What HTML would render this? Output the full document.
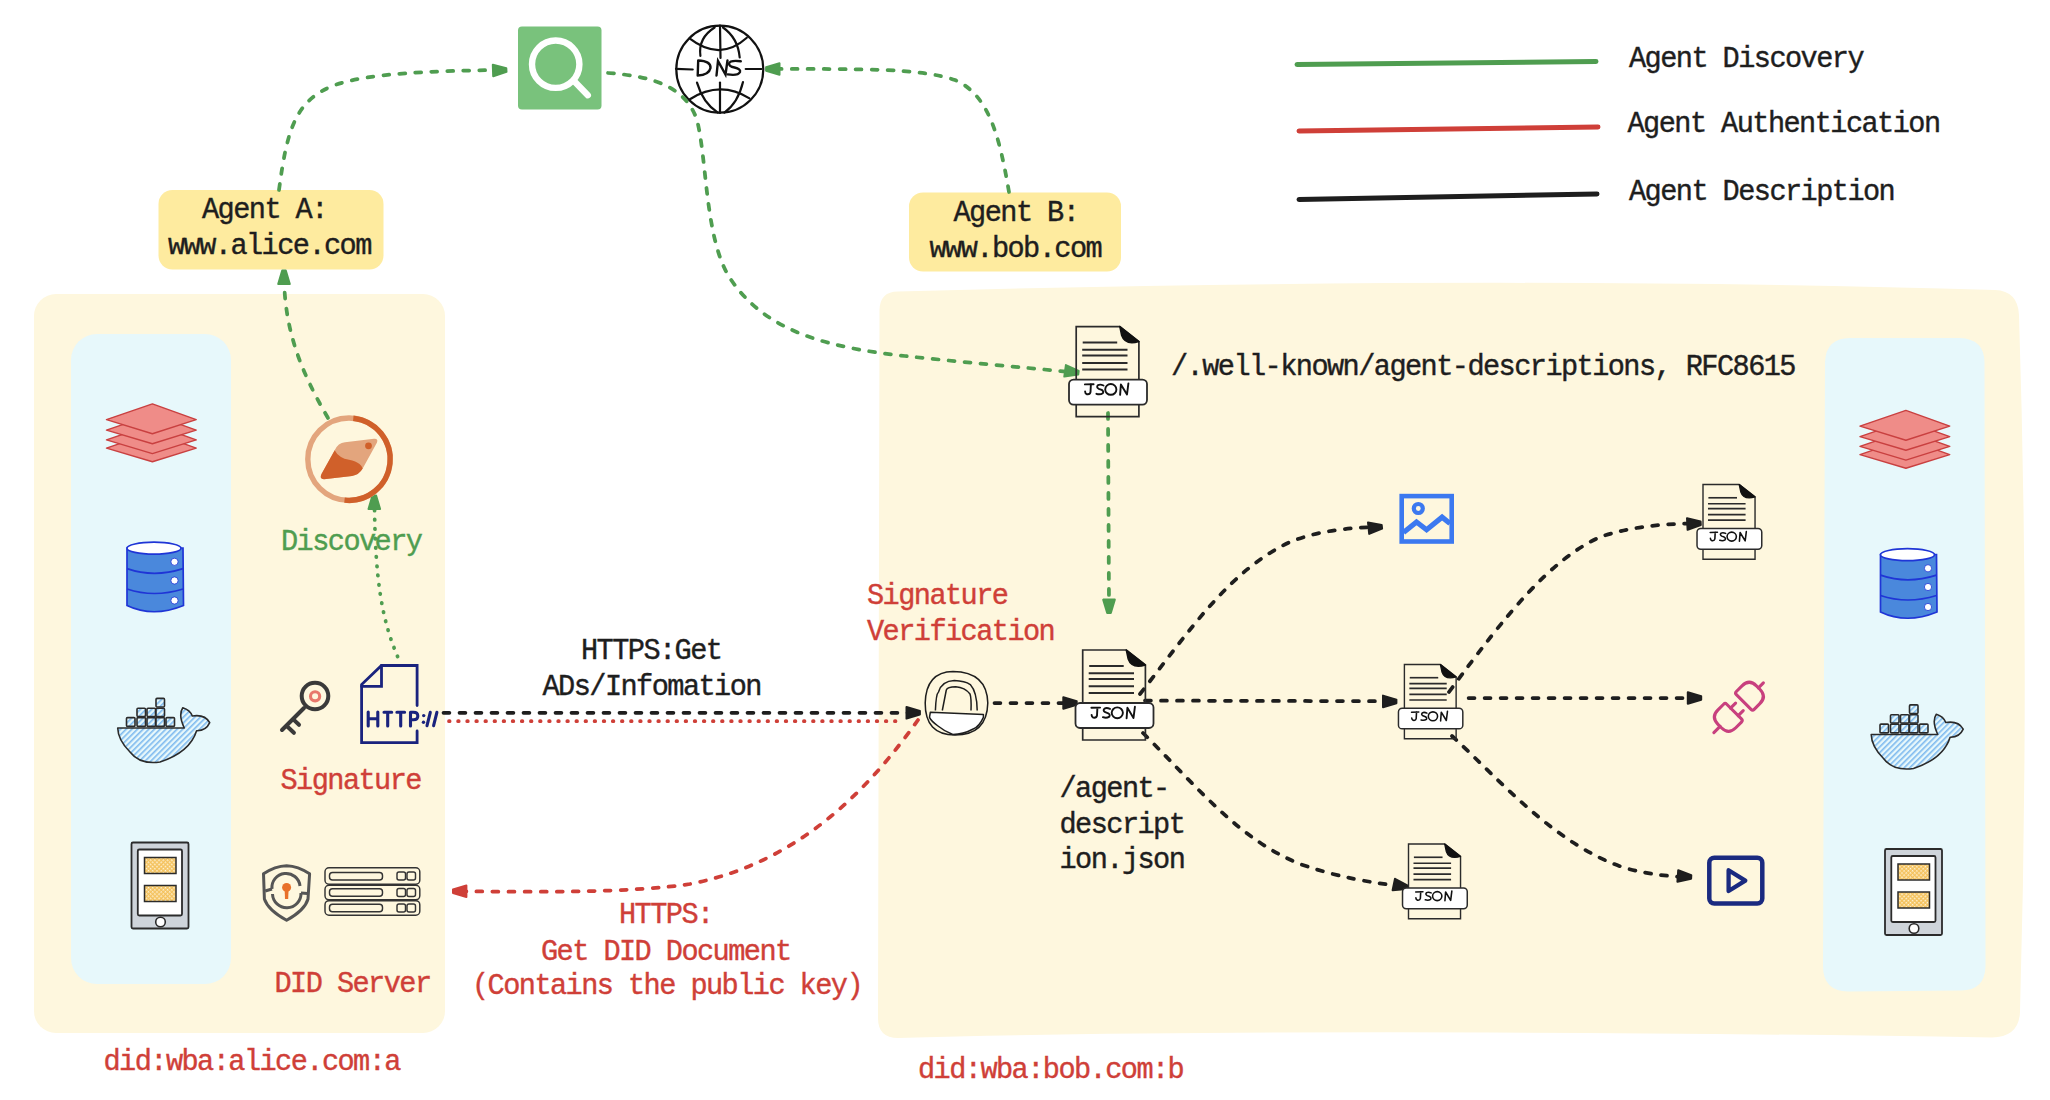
<!DOCTYPE html>
<html><head><meta charset="utf-8">
<style>
html,body{margin:0;padding:0;background:#fff;width:2050px;height:1100px;overflow:hidden}
svg{display:block}
.t{font-family:"Liberation Mono",monospace;font-size:28.6px;letter-spacing:-1.56px;stroke-width:0.4px;paint-order:stroke}
</style></head>
<body>
<svg width="2050" height="1100" viewBox="0 0 2050 1100">
<defs>
  <pattern id="hatch" patternUnits="userSpaceOnUse" width="4" height="4" patternTransform="rotate(-45)">
    <rect width="4" height="4" fill="#e7f8fb"/>
    <rect width="4" height="1.6" fill="#7db9ef"/>
  </pattern>
  <pattern id="xhatch" patternUnits="userSpaceOnUse" width="3" height="3" patternTransform="rotate(45)">
    <rect width="3" height="3" fill="#f4c25e"/>
    <rect width="1.5" height="1.5" fill="#fff6e0"/>
  </pattern>
  <g id="doc">
    <path d="M0,0 L43.6,0 L62.7,15 L62.7,90 L0,90 Z" fill="none" stroke="#2b2b2b" stroke-width="1.7"/>
    <path d="M43.6,0 L62.7,15 Q49,19 45.5,9 Z" fill="#111" stroke="#111" stroke-width="1.5" stroke-linejoin="round"/>
    <g stroke="#2b2b2b" stroke-width="2">
      <line x1="6.5" y1="16" x2="41" y2="16"/>
      <line x1="6" y1="23.2" x2="51.3" y2="23.2"/>
      <line x1="6" y1="29" x2="51.3" y2="29"/>
      <line x1="6" y1="36.3" x2="51.3" y2="36.3"/>
      <line x1="6" y1="43" x2="51.3" y2="43"/>
    </g>
    <rect x="-7.2" y="53" width="78" height="25" rx="4.5" fill="#fff" stroke="#2b2b2b" stroke-width="1.8"/>
    <g fill="none" stroke="#111" stroke-width="1.9" stroke-linecap="round" stroke-linejoin="round">
      <path d="M8.7,57.8 L17.4,57.6 M14.7,57.7 L14.3,65.5 Q13.8,68.2 10.5,67.6 Q9,67 8.9,64.9"/>
      <path d="M27.3,58.9 Q24,57.4 21.8,58.6 Q19.8,60.6 22.5,62.2 L25.5,63.3 Q27.8,64.8 26.6,66.6 Q24,68.4 20.2,67.2"/>
      <ellipse cx="34.6" cy="62.8" rx="5.6" ry="5.4"/>
      <path d="M43.9,68.3 L44.7,57.8 L50.8,67.9 L52.2,56.8"/>
    </g>
  </g>
  <g id="layers">
    <path d="M0,26 L45,41 L90,26 L45,11" fill="none"/>
  </g>
</defs>

<!-- panels -->
<rect x="34" y="294" width="411" height="739" rx="22" fill="#fef7de"/>
<rect x="71" y="334" width="160" height="650" rx="26" fill="#e7f8fb"/>
<path d="M879.5,310 Q880,291.5 898,291.5 Q1500,275 1995,290 Q2018,291 2019,315 Q2030,660 2020,1012 Q2019,1037 1992,1037.4 Q1300,1027 898,1038 Q878,1038 878,1018 Z" fill="#fef7de"/>
<path d="M1825,362 Q1826,338 1850,338 L1960,338 Q1984,339 1984.5,362 L1985.5,966 Q1985,991 1960,990.5 L1848,991.5 Q1823,991 1823,966 Z" fill="#e7f8fb"/>

<!-- agent boxes -->
<rect x="158.5" y="190" width="225" height="79.5" rx="14" fill="#feeb9f"/>
<rect x="909" y="192.5" width="212" height="79" rx="14" fill="#feeb9f"/>

<!-- legend -->
<g stroke-linecap="round" stroke-width="5" fill="none">
  <path d="M1297,64.5 L1596,61.5" stroke="#4f9d50"/>
  <path d="M1299,131 L1598,127" stroke="#cf3f38"/>
  <path d="M1299,199.5 L1597,194" stroke="#1e1e1e"/>
</g>
<g class="t" fill="#1e1e1e" stroke="#1e1e1e">
  <text x="1629" y="66.6">Agent Discovery</text>
  <text x="1627.5" y="132">Agent Authentication</text>
  <text x="1629" y="200">Agent Description</text>
  <text x="1171" y="375">/.well-known/agent-descriptions, RFC8615</text>
  <text x="202" y="218">Agent A:</text>
  <text x="168" y="254">www.alice.com</text>
  <text x="953.5" y="220.5">Agent B:</text>
  <text x="929.5" y="257">www.bob.com</text>
  <text x="581" y="659">HTTPS:Get</text>
  <text x="542.5" y="695">ADs/Infomation</text>
  <text x="1059.5" y="797">/agent-</text>
  <text x="1059.5" y="832.5">descript</text>
  <text x="1059.5" y="868">ion.json</text>
</g>
<g class="t" fill="#cf3f38" stroke="#cf3f38">
  <text x="280.5" y="789">Signature</text>
  <text x="274.5" y="992">DID Server</text>
  <text x="103.5" y="1070">did:wba:alice.com:a</text>
  <text x="918" y="1078">did:wba:bob.com:b</text>
  <text x="867" y="604">Signature</text>
  <text x="867" y="639.5">Verification</text>
  <text x="619" y="923">HTTPS:</text>
  <text x="541" y="959.5">Get DID Document</text>
  <text x="472" y="994">(Contains the public key)</text>
</g>
<g class="t" fill="#4f9d50" stroke="#4f9d50">
  <text x="281" y="550">Discovery</text>
</g>

<!-- search -->
<rect x="518" y="26.5" width="83.5" height="83" rx="4" fill="#79c27c"/>
<circle cx="555.7" cy="64.2" r="23.7" fill="none" stroke="#fff" stroke-width="6.4"/>
<line x1="574.5" y1="81.5" x2="587.8" y2="95.2" stroke="#fff" stroke-width="6.4" stroke-linecap="round"/>

<!-- DNS globe -->
<g fill="none" stroke="#111" stroke-width="2.2" stroke-linecap="round">
  <circle cx="719.8" cy="69.2" r="43.5"/>
  <path d="M689.5,38.4 Q720,62 746.8,37.8"/>
  <path d="M689.5,99.5 Q720,80 749.5,98.4"/>
  <path d="M720,25.5 L720.5,58"/>
  <path d="M720,82.6 L720,113"/>
  <path d="M714.6,27.5 Q698,38 700.4,55.8"/>
  <path d="M697,82.6 Q703,103 717.8,112.6"/>
  <path d="M723,27.5 Q738,38 739.7,57.5"/>
  <path d="M743,82 Q738,103 724.4,112.6"/>
  <path d="M676,68.9 L692.7,69.5"/>
  <path d="M745.7,69 L761.5,69"/>
  <path d="M698.2,60.5 L697.7,75.5 M698.2,60.5 Q711,61 710.5,68 Q709,75 697.7,75.5" stroke-width="2.4"/>
  <path d="M716.5,75.5 L718,61 L725.5,74.5 L727.5,60.5" stroke-width="2.4"/>
  <path d="M740.8,61.3 Q730,60 729,63.5 Q729,66.5 734.5,67.5 Q741,69 740,72 Q738,76 727.7,74.4" stroke-width="2.4"/>
</g>

<!-- arrows green -->
<g fill="none" stroke="#4f9d50" stroke-width="3.75" stroke-linecap="round" stroke-dasharray="5.9 10.1">
  <path d="M279,190 C287,130 295,100 335,85 C370,73 430,71 500,70"/>
  <path d="M608,73 C650,76 685,85 697,120 C707,160 705,235 728,275 C765,335 835,348 905,356 C960,362 1020,367 1070,372"/>
  <path d="M1009,192 C1000,140 990,95 955,80 C920,68 860,69 772,69"/>
  <path d="M328,418 C300,370 285,330 284,278"/>
  <path d="M1108,413 L1109,606"/>
</g>
<path d="M397.6,656.6 C382,620 375,580 374.5,503" fill="none" stroke="#4f9d50" stroke-width="3.75" stroke-linecap="round" stroke-dasharray="0.5 8.8"/>
<g fill="#4f9d50" stroke="#4f9d50" stroke-width="2" stroke-linejoin="round">
  <path d="M506.5,71.8 L493.2,76.3 L492.8,64.7 L506.3,68.2 Z"/>
  <path d="M766.1,67.2 L779.5,63.2 L779.5,74.8 L766.1,70.8 Z"/>
  <path d="M1078.2,374.5 L1064.3,376.6 L1065.9,365.1 L1078.7,370.9 Z"/>
  <path d="M285.8,270.6 L289.8,284.0 L278.2,284.0 L282.2,270.6 Z"/>
  <path d="M376.1,495.6 L380.1,509.0 L368.5,509.0 L372.5,495.6 Z"/>
  <path d="M1107.2,613.0 L1103.2,599.6 L1114.8,599.6 L1110.8,613.0 Z"/>
</g>

<!-- black arrows -->
<g fill="none" stroke="#1e1e1e" stroke-width="3.75" stroke-linecap="round" stroke-dasharray="5.9 10.1">
  <path d="M443.5,712.8 L910,712.8"/>
  <path d="M994.5,703 L1068,703"/>
  <path d="M1140,694 C1190,630 1230,570 1290,542 C1320,530 1350,528 1375,527"/>
  <path d="M1145,700.6 L1388,701.2"/>
  <path d="M1143,733 C1200,790 1240,840 1300,864 C1340,878 1370,882 1398,886"/>
  <path d="M1449,692 C1508,612 1550,560 1600,537 C1630,527 1660,524 1692,523.5"/>
  <path d="M1468.6,698 L1692,698"/>
  <path d="M1452,736 C1500,780 1555,845 1625,868 C1650,875 1670,876 1683,877"/>
</g>
<g fill="#1e1e1e" stroke="#1e1e1e" stroke-width="2" stroke-linejoin="round">
  <path d="M919.9,714.6 L906.5,718.6 L906.5,707.0 L919.9,711.0 Z"/>
  <path d="M1076.7,704.8 L1063.3,708.8 L1063.3,697.2 L1076.7,701.2 Z"/>
  <path d="M1382.1,528.6 L1369.2,533.9 L1368.0,522.4 L1381.7,525.0 Z"/>
  <path d="M1396.4,703.2 L1383.0,707.2 L1383.0,695.6 L1396.4,699.6 Z"/>
  <path d="M1406.5,889.0 L1392.6,890.2 L1395.0,878.8 L1407.3,885.5 Z"/>
  <path d="M1700.8,525.1 L1687.6,529.8 L1687.0,518.2 L1700.6,521.5 Z"/>
  <path d="M1701.2,699.8 L1687.8,703.8 L1687.8,692.2 L1701.2,696.2 Z"/>
  <path d="M1691.1,878.8 L1677.4,881.8 L1678.2,870.2 L1691.3,875.2 Z"/>
</g>

<!-- red arrows -->
<path d="M449,721.2 L897,721.2" fill="none" stroke="#cf3f38" stroke-width="3.75" stroke-linecap="round" stroke-dasharray="0.6 8.5"/>
<path d="M918,720 C875,780 805,862 690,884 C630,893 540,892 460,891.3" fill="none" stroke="#cf3f38" stroke-width="3.75" stroke-linecap="round" stroke-dasharray="5.9 10.1"/>
<g fill="#cf3f38" stroke="#cf3f38" stroke-width="2" stroke-linejoin="round">
  <path d="M453.0,889.5 L466.4,885.5 L466.4,897.1 L453.0,893.1 Z"/>
</g>

<!-- JSON docs -->
<use href="#doc" transform="translate(1076.2,326.6)"/>
<use href="#doc" transform="translate(1082.7,650)"/>
<use href="#doc" transform="translate(1404.4,664.5) scale(0.825)"/>
<use href="#doc" transform="translate(1408.5,844) scale(0.83)"/>
<use href="#doc" transform="translate(1703,484.5) scale(0.83)"/>

<!-- lock -->
<g fill="none" stroke="#1e1e1e" stroke-width="1.5" stroke-linejoin="round">
  <path d="M953,671.5 Q987,672 987.8,703 Q987,735 955,735 Q925,735 925.2,703 Q926,672 953,671.5 Z"/>
  <path d="M935.4,710.5 Q936,694 938.5,692 Q942,681 954.3,680.6 Q965,681 970.3,684.6 Q977,692 977.2,710.5"/>
  <path d="M942.3,710.5 L946.3,690 Q947.5,686.8 955.7,686.8 Q965,687.5 970,694 Q971.5,698 971,710.5"/>
  <path d="M930.3,712.3 L983.4,714.5 L983.4,717.4 Q979,727 973.2,729 Q963,734.5 952.8,734.5 Q944,731 938,726 Q931,721 929.5,717.4 Z" fill="#fff"/>
</g>
<!-- image icon -->
<g fill="none" stroke="#3c79f0" stroke-width="4.6">
  <rect x="1401.7" y="496.1" width="50" height="45.4"/>
  <circle cx="1418.3" cy="508.5" r="4.5" stroke-width="4.2"/>
  <path d="M1403.5,532.5 L1416.5,522 L1426.6,529.8 L1442.1,517.2 L1450,523.5" stroke-width="5.2" stroke-linejoin="miter"/>
</g>
<!-- play icon -->
<g fill="none" stroke="#1a2a80" stroke-width="4.5" stroke-linejoin="round">
  <rect x="1709.3" y="857.7" width="53" height="45.8" rx="5"/>
  <path d="M1728.6,870.2 L1745.3,880.6 L1728.6,891 Z" stroke-width="4.3"/>
</g>

<!-- plug icon -->
<g fill="none" stroke="#c8407e" stroke-width="3.1" stroke-linecap="round" stroke-linejoin="round" transform="translate(1738.9,706.8) rotate(-45)">
  <path d="M9,-12.6 L17,-12.6 Q27.2,-12.6 27.2,-2.4 L27.2,2.4 Q27.2,12.6 17,12.6 L9,12.6 Q6.8,12.6 6.8,10.4 L6.8,-10.4 Q6.8,-12.6 9,-12.6 Z"/>
  <path d="M-9,-12.6 L-17,-12.6 Q-27.2,-12.6 -27.2,-2.4 L-27.2,2.4 Q-27.2,12.6 -17,12.6 L-9,12.6 Q-6.8,12.6 -6.8,10.4 L-6.8,-10.4 Q-6.8,-12.6 -9,-12.6 Z"/>
  <line x1="27.2" y1="0.4" x2="34.2" y2="0.4"/>
  <line x1="-27.2" y1="0.6" x2="-36" y2="0.6"/>
  <line x1="-6.8" y1="-5" x2="0.3" y2="-5"/>
  <line x1="-6.8" y1="5.8" x2="0.3" y2="5.8"/>
</g>
<!-- HTTP doc -->
<g fill="none" stroke="#1a237e" stroke-width="2.8" stroke-linejoin="miter" stroke-linecap="round">
  <path d="M417.1,705.5 L417.1,665.5 L381.5,665.5 L361.6,684.5 L361.6,742.7 L417.1,742.7 L417.1,731"/>
  <path d="M381.5,665.5 L381.5,686.4 L361.6,686.4"/>
</g>
<g fill="none" stroke="#1a237e" stroke-width="3.1" stroke-linecap="round" stroke-linejoin="round">
  <path d="M368.2,712 L368.2,725.9 M377.8,712 L377.8,725.9 M368.2,718.7 L377.8,718.7"/>
  <path d="M384,712.3 L391.7,712.3 M387.7,712.3 L387.7,725.9"/>
  <path d="M396.9,712.3 L404.6,712.3 M400.7,712.3 L400.7,725.9"/>
  <path d="M410.5,725.9 L410.5,712.3 L413.5,712.3 Q417.8,712.3 417.8,716 Q417.8,719.8 413.5,719.8 L410.5,719.8"/>
  <path d="M430.3,712.3 L427,725.7 M436.9,712.3 L433.6,725.7"/>
</g>
<circle cx="423.7" cy="715.6" r="1.7" fill="#1a237e"/>
<circle cx="423.5" cy="722.2" r="1.7" fill="#1a237e"/>
<!-- key icon -->
<g fill="none" stroke="#3a3a3a" stroke-width="4" stroke-linecap="round">
  <circle cx="315" cy="696" r="13.3"/>
  <path d="M304,708 L282,730"/>
  <path d="M287,726.2 L293.9,732.8"/>
  <path d="M293.6,719.6 L299,724.8"/>
</g>
<circle cx="315.1" cy="696.3" r="4.6" fill="none" stroke="#e8786c" stroke-width="3.1"/>

<!-- compass -->
<g fill="none" stroke-width="5.4">
  <circle cx="349" cy="459.2" r="41.2" stroke="#e3a57d"/>
  <circle cx="349" cy="459.2" r="41.2" stroke="#d0602a" stroke-dasharray="129.4 129.5" transform="rotate(-84 349 459.2)"/>
</g>
<path d="M324,479.3 Q319,479 321.5,474 L334.7,450.3 Q338,443 345,442.3 L374,438.8 Q378.5,438.5 377,442.5 L362.7,468.6 Q359,475 352,476 Z" fill="#e3a57d"/>
<path d="M334.7,450.3 Q337,455 341,457 Q344,459 349,459.7 Q356,461 359.5,464 Q362,466 362.7,468.6 Q359,475 352,476 L324,479.3 Q319,479 321.5,474 Z" fill="#d0602a"/>
<circle cx="368.5" cy="445.8" r="3.4" fill="#d0602a"/>

<!-- shield -->
<g fill="none" stroke="#555" stroke-width="3" stroke-linejoin="round">
  <path d="M286.6,865.7 Q275,866 263.5,873.8 L264.4,899 Q268,910 286.6,920.3 Q305,910 308,899 L309.6,873.8 Q298,866 286.6,865.7 Z"/>
  <path d="M272,889 A14,14 0 0 1 300,886"/>
  <path d="M301,893 A14,14 0 0 1 272.5,894"/>
  <path d="M265.2,891 L272,889"/>
  <path d="M301,893 L307.5,893.5"/>
</g>
<circle cx="286.6" cy="887.4" r="4.5" fill="#e8702a"/>
<path d="M284.6,888 L288.6,888 L288.2,899 L285,899 Z" fill="#e8702a"/>

<!-- server -->
<g fill="none" stroke="#333" stroke-width="1.45">
  <rect x="325" y="867.8" width="94.8" height="16.4" rx="4"/>
  <rect x="325" y="885.3" width="94.8" height="14.5" rx="4"/>
  <rect x="325" y="900.7" width="94.8" height="14.5" rx="4"/>
  <rect x="329.5" y="872.5" width="53" height="7.5" rx="3"/>
  <rect x="329.5" y="888.8" width="53" height="7.5" rx="3"/>
  <rect x="329.5" y="904.2" width="53" height="7.5" rx="3"/>
  <rect x="397" y="872" width="8.5" height="8" rx="2"/>
  <rect x="407" y="872" width="8.5" height="8" rx="2"/>
  <rect x="397" y="888.5" width="8.5" height="8" rx="2"/>
  <rect x="407" y="888.5" width="8.5" height="8" rx="2"/>
  <rect x="397" y="904" width="8.5" height="8" rx="2"/>
  <rect x="407" y="904" width="8.5" height="8" rx="2"/>
</g>

<!-- blue panel icons (left) -->
<g id="icons">
  <!-- layers -->
  <g fill="#ef8c88" stroke="#c94040" stroke-width="1.5" stroke-linejoin="round">
    <path d="M106.5,448.1 L152.4,432.4 L196.2,448.1 L152.4,461.8 Z"/>
    <path d="M106.5,439.9 L152.4,424.2 L196.2,439.9 L152.4,453.6 Z"/>
    <path d="M106.5,430.1 L152.4,414.4 L196.2,430.1 L152.4,443.8 Z"/>
    <path d="M106.5,419.6 L152.4,403.9 L196.2,419.6 L152.4,433.7 Z"/>
  </g>
  <!-- database -->
  <g stroke="#1f35d6" stroke-width="1.7">
    <path d="M127,548 L127,605.5 Q153,618 183.5,605.5 L183,548 Z" fill="#4a88dc"/>
    <ellipse cx="154" cy="548.2" rx="27" ry="6" fill="#fff"/>
    <path d="M127,568.6 Q154,578 183,568.6" fill="none"/>
    <path d="M127,589 Q154,598 183,589" fill="none"/>
  </g>
  <g fill="#fff" stroke="#1f35d6" stroke-width="0.8">
    <circle cx="174.5" cy="561.8" r="3.6"/>
    <circle cx="174.5" cy="580.5" r="3.6"/>
    <circle cx="174.5" cy="600.5" r="3.6"/>
  </g>
  <!-- docker -->
  <g stroke="#2b2b2b" stroke-width="1.6" fill="url(#hatch)">
    <path d="M117.7,728 L184.3,728 Q178,715 182.8,707.8 Q190,710 192.3,716 Q205,714 209.7,722.7 Q206,731 196.6,730.7 Q190,752 160,762 Q140,765 130,752 Q118,740 117.7,728 Z" stroke-linejoin="round"/>
    <rect x="126.5" y="717.6" width="8.5" height="8.8" rx="1"/>
    <rect x="137" y="717.6" width="8.5" height="8.8" rx="1"/>
    <rect x="147" y="717.6" width="8.5" height="8.8" rx="1"/>
    <rect x="156" y="717.6" width="8.5" height="8.8" rx="1"/>
    <rect x="166" y="717.6" width="8.5" height="8.8" rx="1"/>
    <rect x="137" y="708.2" width="8.5" height="8.3" rx="1"/>
    <rect x="147" y="708.2" width="8.5" height="8.3" rx="1"/>
    <rect x="156" y="708.2" width="8.5" height="8.3" rx="1"/>
    <rect x="156" y="698.4" width="8.5" height="8.6" rx="1"/>
  </g>
  <!-- tablet -->
  <rect x="131.5" y="842.5" width="57" height="86" rx="1.5" fill="#ced4da" stroke="#2b2b2b" stroke-width="1.8"/>
  <rect x="137.8" y="849.5" width="44.2" height="66" rx="1.5" fill="#fff" stroke="#2b2b2b" stroke-width="1.8"/>
  <rect x="144.5" y="857.5" width="31.5" height="16" fill="url(#xhatch)" stroke="#2b2b2b" stroke-width="1.5"/>
  <rect x="144.5" y="885.5" width="31.5" height="16" fill="url(#xhatch)" stroke="#2b2b2b" stroke-width="1.5"/>
  <circle cx="160.5" cy="922" r="4.8" fill="#fff" stroke="#2b2b2b" stroke-width="1.6"/>
</g>
<!-- right icons -->
<use href="#icons" transform="translate(1753.5,6.5)"/>
</svg>
</body></html>
